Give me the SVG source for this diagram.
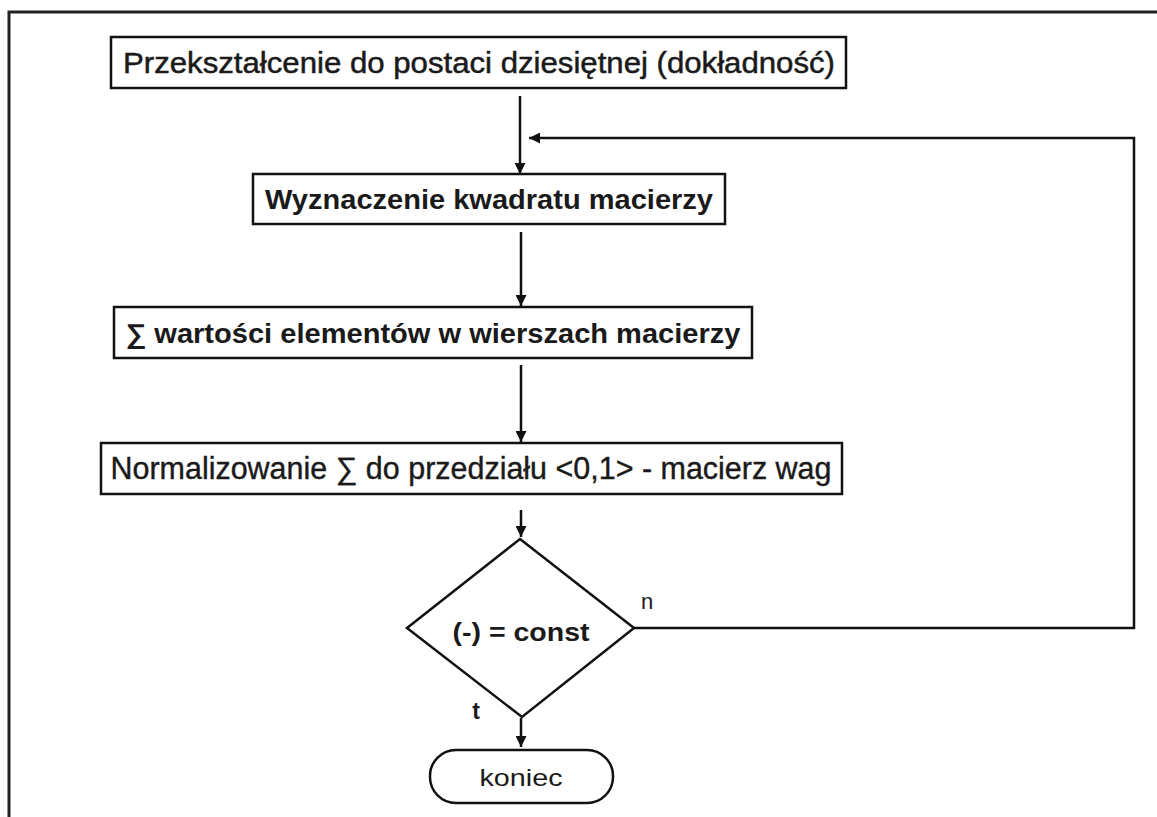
<svg xmlns="http://www.w3.org/2000/svg" width="1157" height="817" viewBox="0 0 1157 817">
<defs>
<style>
.box{fill:#fff;stroke:#111;stroke-width:2.5}
.ln{fill:none;stroke:#111;stroke-width:2.5}
.t{font-family:"Liberation Sans",Arial,sans-serif;fill:#1a1a1a;text-anchor:middle}
.b{font-weight:bold}
</style>
<marker id="ah" viewBox="0 0 10 10" refX="10" refY="5" markerWidth="4.4" markerHeight="4.4" orient="auto" markerUnits="strokeWidth">
<path d="M0,0 L10,5 L0,10 z" fill="#111"/>
</marker>
</defs>
<rect width="1157" height="817" fill="#fff"/>
<path d="M9,817 V12 H1157" fill="none" stroke="#222" stroke-width="3"/>
<g id="connectors">
<path class="ln" d="M520,96 V174" marker-end="url(#ah)"/>
<path class="ln" d="M521,232 V306" marker-end="url(#ah)"/>
<path class="ln" d="M521,365 V442" marker-end="url(#ah)"/>
<path class="ln" d="M521,510 V537" marker-end="url(#ah)"/>
<path class="ln" d="M521,718 V747" marker-end="url(#ah)"/>
<path class="ln" d="M634,628 H1134 V138 H529" marker-end="url(#ah)"/>
<text class="t" x="647" y="609" font-size="22">n</text>
<text class="t b" x="476" y="719" font-size="23">t</text>
</g>
<g id="n1">
<rect class="box" x="111" y="37" width="735" height="51"/>
<text class="t" x="479" y="73" font-size="30" textLength="712" lengthAdjust="spacingAndGlyphs" style="stroke:#1a1a1a;stroke-width:0.5">Przekształcenie do postaci dziesiętnej (dokładność)</text>
</g>
<g id="n2">
<rect class="box" x="253" y="174" width="472" height="50"/>
<text class="t b" x="489" y="209" font-size="27" textLength="448" lengthAdjust="spacingAndGlyphs">Wyznaczenie kwadratu macierzy</text>
</g>
<g id="n3">
<rect class="box" x="114" y="307" width="638" height="51"/>
<text class="t b" x="433" y="343" font-size="27" textLength="615" lengthAdjust="spacingAndGlyphs">∑ wartości elementów w wierszach macierzy</text>
</g>
<g id="n4">
<rect class="box" x="101" y="443" width="741" height="51"/>
<text class="t" x="471" y="479" font-size="31" textLength="721" lengthAdjust="spacingAndGlyphs" style="stroke:#1a1a1a;stroke-width:0.4">Normalizowanie ∑ do przedziału &lt;0,1&gt; - macierz wag</text>
</g>
<g id="n5">
<polygon class="box" points="520,539 634,628 522,717 407,628"/>
<text class="t b" x="521" y="641" font-size="26" textLength="137" lengthAdjust="spacingAndGlyphs">(-) = const</text>
</g>
<g id="n6">
<rect class="box" x="430" y="750" width="183" height="53" rx="26" ry="26"/>
<text class="t" x="521" y="786" font-size="24" textLength="83" lengthAdjust="spacingAndGlyphs">koniec</text>
</g>
</svg>
